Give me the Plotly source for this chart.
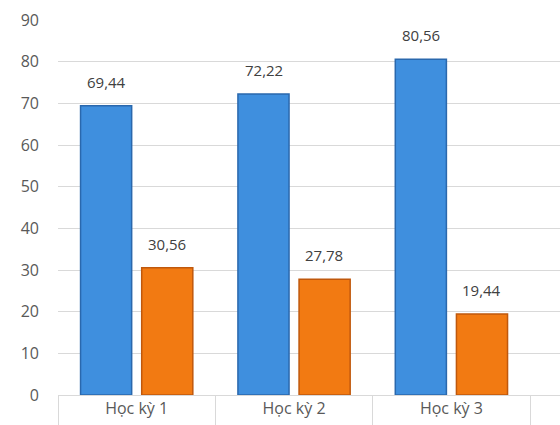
import plotly.graph_objects as go

categories = ["Học kỳ 1", "Học kỳ 2", "Học kỳ 3"]
series_blue = [69.44, 72.22, 80.56]
series_orange = [30.56, 27.78, 19.44]
y_ticks = [0, 10, 20, 30, 40, 50, 60, 70, 80, 90]

FONT = "Open Sans, Noto Sans, sans-serif"
GRID = "#d9d9d9"
TXT = "#595959"

fig = go.Figure()
fig.add_trace(go.Bar(x=categories, y=series_blue, name="s1",
                     marker=dict(color="#3f8fde", line=dict(color="#2a68ad", width=1.5))))
fig.add_trace(go.Bar(x=categories, y=series_orange, name="s2",
                     marker=dict(color="#f27a12", line=dict(color="#c0580c", width=1.5))))

for vals, shift in ((series_blue, -30), (series_orange, 30)):
    for c, v in zip(categories, vals):
        fig.add_annotation(x=c, y=v, text=f"{v:.2f}".replace(".", ","),
                           showarrow=False, yanchor="bottom", yshift=12, xshift=shift,
                           font=dict(family=FONT, size=15, color="#404040"))

fig.update_layout(
    width=560, height=425,
    margin=dict(l=58, r=0, t=20, b=25),
    paper_bgcolor="white", plot_bgcolor="white",
    showlegend=False,
    barmode="group", bargap=0.223, bargroupgap=0.164,
    font=dict(family=FONT, size=14, color=TXT),
)
fig.update_xaxes(type="category", range=[-0.5, 2.69],
                 showline=True, linecolor=GRID, linewidth=1,
                 ticks="outside", tickson="boundaries", ticklen=30, tickcolor=GRID, tickwidth=1,
                 ticklabelstandoff=-1,
                 tickfont=dict(family=FONT, size=16, color=TXT), showgrid=False)
fig.update_yaxes(range=[0, 90], tickvals=y_ticks, showgrid=True, gridcolor=GRID, gridwidth=1,
                 zeroline=False, showline=False, ticks="", ticklabelstandoff=18,
                 tickfont=dict(family=FONT, size=16, color=TXT))

fig.write_html("out.html")
